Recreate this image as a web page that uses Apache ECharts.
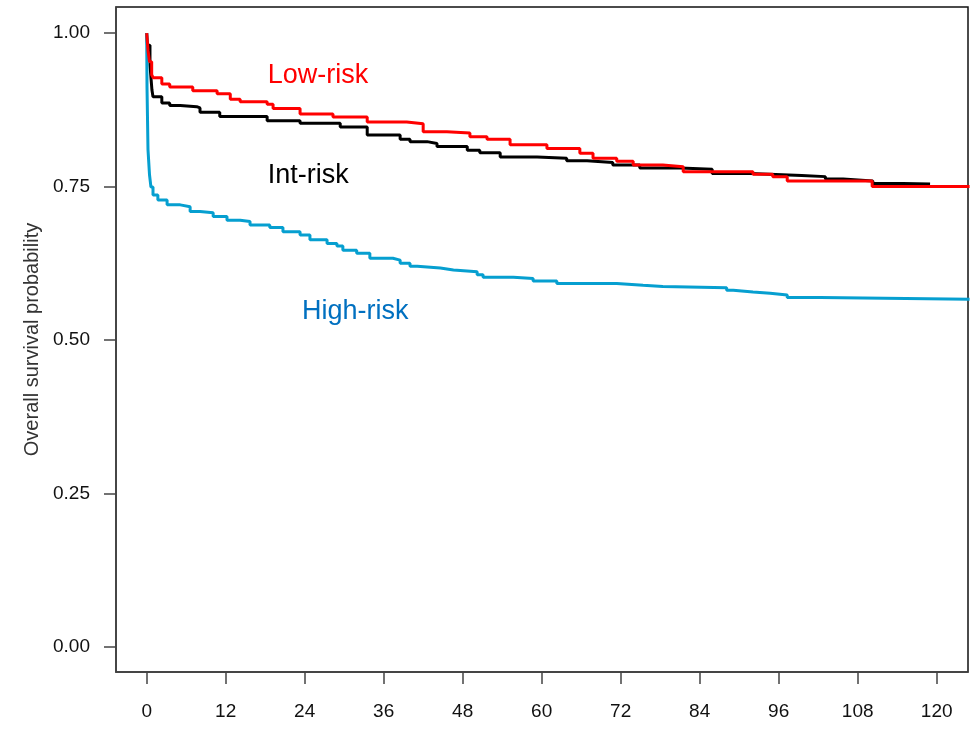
<!DOCTYPE html>
<html>
	<head>
		<meta charset="utf-8">
		<title>Overall survival</title>
	</head>
	<body style="margin:0;">
		<div id="main" style="width: 979px;height:732px;"></div>
	</body>
	<script src="https://cdn.jsdelivr.net/npm/echarts@6/dist/echarts.min.js"></script>
	<script type="text/javascript">
		'use strict'

		// months / survival step points
		var lowRisk = [
			[0, 1.0], [0.2, 0.972], [0.43, 0.953], [0.76, 0.932], [1.0, 0.927], [2.3, 0.917],
			[3.5, 0.912], [7.0, 0.906], [10.7, 0.901], [12.7, 0.892], [14.2, 0.888],
			[18.3, 0.884], [19.2, 0.877], [23.3, 0.868], [28.3, 0.863], [33.5, 0.855],
			[39.5, 0.852], [42.0, 0.839], [45.6, 0.837], [49.1, 0.831], [51.7, 0.827],
			[55.2, 0.818], [60.8, 0.812], [65.8, 0.804], [67.8, 0.796], [71.4, 0.791],
			[73.9, 0.785], [78.4, 0.782], [81.5, 0.774], [92.1, 0.770], [95.1, 0.766],
			[97.3, 0.759], [110.2, 0.750], [125, 0.750]
		];
		var intRisk = [
			[0, 1.0], [0.12, 0.98], [0.5, 0.948], [0.8, 0.907], [0.96, 0.896], [2.3, 0.886],
			[3.5, 0.882], [5.1, 0.880], [7.6, 0.878], [8.1, 0.871], [11.1, 0.864],
			[18.3, 0.857], [23.3, 0.853], [29.4, 0.847], [33.5, 0.834], [38.5, 0.827],
			[40.0, 0.823], [42.6, 0.820], [44.1, 0.815], [48.7, 0.809], [50.6, 0.805],
			[53.7, 0.798], [59.3, 0.796], [63.8, 0.792], [66.9, 0.789], [70.8, 0.785],
			[74.9, 0.780], [81.0, 0.778], [85.9, 0.771], [91.6, 0.768], [99.5, 0.766],
			[103.1, 0.762], [105.8, 0.759], [110.3, 0.755], [114.9, 0.754], [119.0, 0.754]
		];
		var highRisk = [
			[0, 1.0], [0.05, 0.912], [0.2, 0.81], [0.43, 0.769], [0.65, 0.749], [0.96, 0.736],
			[1.7, 0.728], [3.1, 0.720], [5.1, 0.717], [6.6, 0.709], [8.1, 0.707],
			[10.1, 0.701], [12.2, 0.695], [14.2, 0.693], [15.7, 0.687], [18.7, 0.683],
			[20.7, 0.676], [23.3, 0.671], [24.8, 0.663], [27.4, 0.657], [28.9, 0.653],
			[29.8, 0.646], [31.9, 0.641], [33.9, 0.633], [37.4, 0.630], [38.5, 0.625],
			[40.0, 0.620], [41.1, 0.617], [44.6, 0.614], [46.6, 0.611], [50.2, 0.606],
			[51.1, 0.602], [55.7, 0.600], [58.7, 0.596], [62.3, 0.592], [71.4, 0.589],
			[75.4, 0.587], [78.4, 0.585], [88.1, 0.581], [89.1, 0.578], [92.1, 0.576],
			[94.7, 0.573], [97.3, 0.569], [102.3, 0.566], [125, 0.566]
		];

		var xTicks = [0, 12, 24, 36, 48, 60, 72, 84, 96, 108, 120];
		var yTicks = [0, 0.25, 0.5, 0.75, 1];

		// group labels drawn inside the plot
		var groupNames = ['Low-risk', 'Int-risk', 'High-risk'];
		var groupLabelAt = [[18.4, 0.930], [18.4, 0.767], [23.6, 0.546]];
		var lineColors = ['#ff0000', '#000000', '#069fd0'];
		var textColors = ['#ff0000', '#000000', '#0070c0'];

		var myChart = echarts.init(document.getElementById('main'));

		function kmSeries(name, data, color) {
			return {
				name: name,
				type: 'line',
				step: 'end',
				showSymbol: false,
				animation: false,
				data: data,
				lineStyle: { color: color, width: 3 }
			};
		}

		var labelData = groupNames.map(function (n, i) {
			return {
				value: groupLabelAt[i].concat([n]),
				label: { color: textColors[i] }
			};
		});

		var option = {
			animation: false,
			textStyle: { fontFamily: 'Liberation Sans, Arial, sans-serif' },
			grid: {
				left: 116, right: 11, top: 7, bottom: 60,
				containLabel: false,
				show: true,
				borderColor: '#111',
				borderWidth: 1.5
			},
			xAxis: {
				type: 'value',
				min: -4.66,
				max: 124.76,
				splitLine: { show: false },
				axisLine: { show: true, onZero: false, lineStyle: { color: '#444', width: 1.5 } },
				axisTick: { show: true, customValues: xTicks, length: 12, lineStyle: { color: '#444', width: 1.5 } },
				axisLabel: { customValues: xTicks, margin: 30, fontSize: 19, color: '#111' }
			},
			yAxis: {
				type: 'value',
				min: -0.0412,
				max: 1.0424,
				name: 'Overall survival probability',
				nameLocation: 'middle',
				nameGap: 73,
				nameTextStyle: { fontSize: 20, color: '#333' },
				splitLine: { show: false },
				axisLine: { show: true, onZero: false, lineStyle: { color: '#444', width: 1.5 } },
				axisTick: { show: true, customValues: yTicks, length: 12, lineStyle: { color: '#444', width: 1.5 } },
				axisLabel: {
					customValues: yTicks, margin: 26, fontSize: 19, color: '#111',
					formatter: function (v) { return v.toFixed(2); }
				}
			},
			series: [
				kmSeries('Int-risk', intRisk, lineColors[1]),
				kmSeries('High-risk', highRisk, lineColors[2]),
				kmSeries('Low-risk', lowRisk, lineColors[0]),
				{
					type: 'scatter',
					symbolSize: 0,
					itemStyle: { opacity: 1 },
					data: labelData,
					label: {
						show: true,
						position: 'right',
						distance: 0,
						fontSize: 27,
						formatter: function (p) { return p.value[2]; }
					},
					silent: true
				}
			]
		};

		myChart.setOption(option);
	</script>
</html>
